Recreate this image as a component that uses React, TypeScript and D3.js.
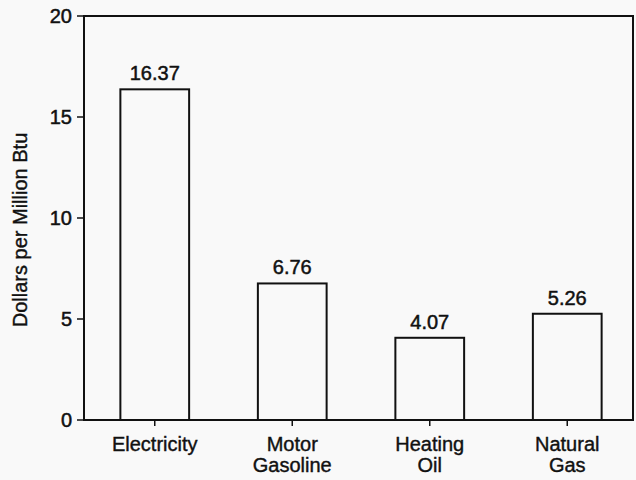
import React from "react";
import * as d3 from "d3";

const categories: string[][] = [["Electricity"], ["Motor", "Gasoline"], ["Heating", "Oil"], ["Natural", "Gas"]];
const values: number[] = [16.37, 6.76, 4.07, 5.26];
const valueLabels: string[] = ["16.37", "6.76", "4.07", "5.26"];
const yTicks: number[] = [0, 5, 10, 15, 20];
const yTitle = "Dollars per Million Btu";

const W = 636, H = 480;
const left = 84, right = 633, top = 16, bottom = 420;
const font = "'Liberation Sans', Arial, Helvetica, sans-serif";

export default function App() {
  const keys = categories.map((c) => c.join(" "));
  const x = d3.scaleBand<string>().domain(keys).range([86, 636]).paddingInner(0.5).paddingOuter(0.25);
  const y = d3.scaleLinear().domain([0, 20]).range([bottom, top]);
  const bw = x.bandwidth();
  return (
    <svg width={W} height={H} style={{ position: "absolute", left: 0, top: 0, background: "#f9f9f9" }}>
      <rect x={0} y={0} width={W} height={H} fill="#f9f9f9" />
      <rect x={left} y={top} width={right - left} height={bottom - top} fill="none" stroke="#111" strokeWidth={2} />
      {yTicks.map((t) => (
        <g key={t}>
          <line x1={left - 7} x2={left} y1={y(t)} y2={y(t)} stroke="#111" strokeWidth={1.5} />
          <text x={left - 12} y={y(t)} dy="0.36em" textAnchor="end" fontFamily={font} fontSize={20} fill="#111" stroke="#111" strokeWidth={0.5}>
            {t}
          </text>
        </g>
      ))}
      {values.map((v, i) => {
        const k = keys[i];
        const cx = (x(k) as number) + bw / 2;
        return (
          <g key={k}>
            <rect x={x(k)} y={y(v)} width={bw} height={bottom - y(v)} fill="none" stroke="#111" strokeWidth={2} />
            <text x={cx} y={y(v) - 9} textAnchor="middle" fontFamily={font} fontSize={20} fill="#111" stroke="#111" strokeWidth={0.5}>
              {valueLabels[i]}
            </text>
            <line x1={cx} x2={cx} y1={bottom} y2={bottom + 6} stroke="#111" strokeWidth={1.5} />
            {categories[i].map((line, j) => (
              <text key={j} x={cx} y={451 + j * 21} textAnchor="middle" fontFamily={font} fontSize={20} fill="#111" stroke="#111" strokeWidth={0.4}>
                {line}
              </text>
            ))}
          </g>
        );
      })}
      <text transform={`translate(27,230) rotate(-90)`} textAnchor="middle" fontFamily={font} fontSize={20} fill="#111" stroke="#111" strokeWidth={0.4}>
        {yTitle}
      </text>
    </svg>
  );
}
